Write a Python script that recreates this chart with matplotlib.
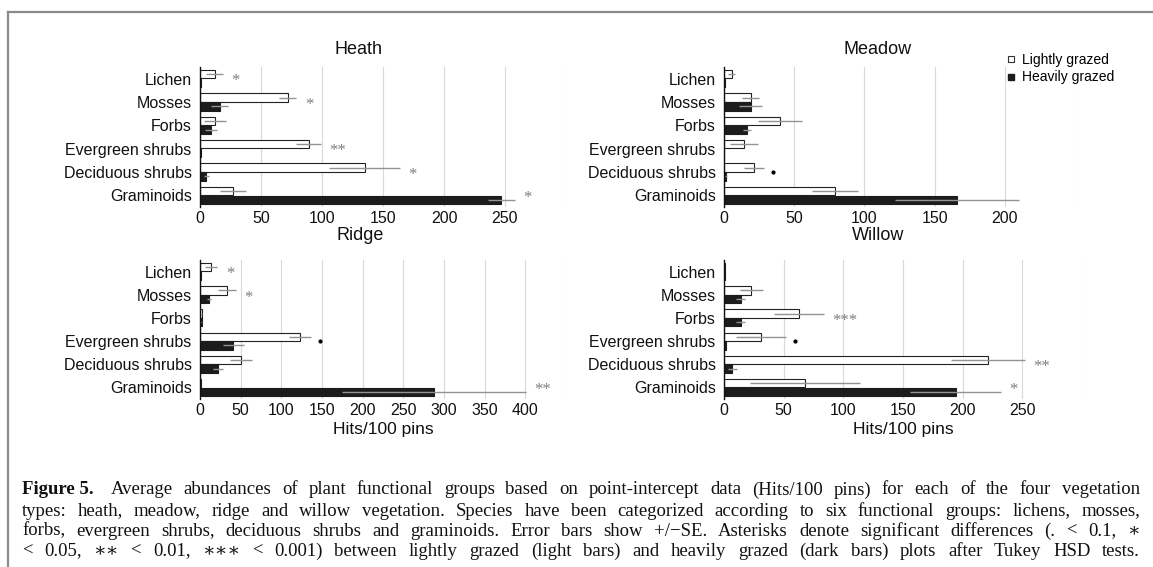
import matplotlib

matplotlib.use("Agg")
import matplotlib.pyplot as plt
from matplotlib.lines import Line2D

plt.rcParams["font.family"] = ["Liberation Sans", "DejaVu Sans"]

W, H = 1153, 567

categories = ["Lichen", "Mosses", "Forbs", "Evergreen shrubs", "Deciduous shrubs", "Graminoids"]

heath_light = [12, 72, 12, 89, 135, 27]
heath_light_se = [7, 7, 9, 10, 29, 11]
heath_heavy = [0.5, 16, 9, 1, 5, 247]
heath_heavy_se = [0, 7, 5, 0, 2, 11]
heath_sig = ["*", "*", "", "**", "*", "*"]

meadow_light = [5.5, 19, 40, 14, 21.5, 79]
meadow_light_se = [2.5, 6, 15.5, 10, 7, 16.5]
meadow_heavy = [0.5, 19, 16.5, 0, 1.5, 166]
meadow_heavy_se = [0, 8, 3, 0, 0.5, 44]
meadow_sig = ["", "", "", "", ".", ""]

ridge_light = [14, 33, 2, 123, 50, 1]
ridge_light_se = [7.5, 11, 0.5, 13, 13.5, 0]
ridge_heavy = [1, 11, 2, 41, 22, 288]
ridge_heavy_se = [0, 3, 0.5, 12.5, 6, 113]
ridge_sig = ["*", "*", "", ".", "", "**"]

willow_light = [0.5, 23, 63, 31, 221, 68]
willow_light_se = [0, 10, 21, 21, 31, 46]
willow_heavy = [0.5, 14, 14, 1.5, 7, 194]
willow_heavy_se = [0, 4, 4, 0, 3.5, 38]
willow_sig = ["", "", "***", ".", "**", "*"]

panel_titles = ["Heath", "Meadow", "Ridge", "Willow"]
panel_xmax = [300, 250, 450, 300]
panel_label_max = [250, 200, 400, 250]
legend_labels = ["Lightly grazed", "Heavily grazed"]
xlabel = "Hits/100 pins"

caption_head = "Figure 5."
caption_lines = [
    "Average abundances of plant functional groups based on point-intercept data (Hits/100 pins) for each of the four vegetation",
    "types: heath, meadow, ridge and willow vegetation. Species have been categorized according to six functional groups: lichens, mosses,",
    "forbs, evergreen shrubs, deciduous shrubs and graminoids. Error bars show +/\u2212SE. Asterisks denote significant differences (. < 0.1, \u2217",
    "< 0.05, \u2217\u2217 < 0.01, \u2217\u2217\u2217 < 0.001) between lightly grazed (light bars) and heavily grazed (dark bars) plots after Tukey HSD tests.",
]


def fx(px):
    return px / W


def fy(py):
    return 1 - py / H


def draw_panel(ax, light, light_se, heavy, heavy_se, sig, xmax, label_max):
    y = list(range(len(categories)))
    h = 0.36
    yl = [v - 0.19 for v in y]
    yh = [v + 0.19 for v in y]
    ax.barh(yl, light, height=h, color="white", edgecolor="#222222", linewidth=0.8, zorder=2)
    ax.barh(yh, heavy, height=h, color="#1c1c1c", edgecolor="#1c1c1c", linewidth=0.8, zorder=2)
    ax.errorbar(light, yl, xerr=light_se, fmt="none", ecolor="#939393", elinewidth=1.0, capsize=0, zorder=3)
    ax.errorbar(heavy, yh, xerr=heavy_se, fmt="none", ecolor="#939393", elinewidth=1.0, capsize=0, zorder=3)

    for i, s in enumerate(sig):
        if not s:
            continue
        end = max(light[i] + light_se[i], heavy[i] + heavy_se[i])
        if s == ".":
            # significance dot, about 9 px right of the error bar
            ax.plot([end + 9 * xmax / 360], [i], marker="o", markersize=2.0, color="black", zorder=4)
        else:
            ax.annotate(s, xy=(end, i + 0.12), xytext=(6, 0), textcoords="offset points",
                        ha="left", va="center", fontsize=12, color="#7f7f7f",
                        family=["Liberation Serif", "DejaVu Serif"])

    ax.set_xlim(0, xmax)
    ax.set_ylim(len(categories) - 0.5, -0.5)
    ticks = list(range(0, xmax + 1, 50))
    ax.set_xticks(ticks)
    ax.set_xticklabels([str(t) if t <= label_max else "" for t in ticks])
    ax.set_yticks(y)
    ax.set_yticklabels(categories)
    ax.tick_params(axis="both", length=0, labelsize=11.5, colors="#111111")
    ax.tick_params(axis="x", pad=3)
    ax.tick_params(axis="y", pad=6)
    ax.grid(axis="x", color="#d9d9d9", linewidth=0.8, zorder=0)
    ax.set_axisbelow(True)
    for side in ["top", "right", "bottom"]:
        ax.spines[side].set_visible(False)
    ax.spines["left"].set_color("#111111")
    ax.spines["left"].set_linewidth(1.0)
    ax.spines["left"].set_zorder(5)


fig = plt.figure(figsize=(W / 100, H / 100), dpi=100)

rects = [
    [fx(200), fy(207), (566 - 200) / W, 140 / H],
    [fx(724), fy(207), (1075 - 724) / W, 140 / H],
    [fx(200), fy(399), (566 - 200) / W, 139 / H],
    [fx(724), fy(399), (1082 - 724) / W, 139 / H],
]
series = [
    (heath_light, heath_light_se, heath_heavy, heath_heavy_se, heath_sig),
    (meadow_light, meadow_light_se, meadow_heavy, meadow_heavy_se, meadow_sig),
    (ridge_light, ridge_light_se, ridge_heavy, ridge_heavy_se, ridge_sig),
    (willow_light, willow_light_se, willow_heavy, willow_heavy_se, willow_sig),
]
title_pos = [(358, 50), (878, 50), (360, 235), (878, 235)]

axes = []
for k, rect in enumerate(rects):
    ax = fig.add_axes(rect)
    draw_panel(ax, *series[k], panel_xmax[k], panel_label_max[k])
    tx, ty = title_pos[k]
    fig.text(fx(tx), fy(ty), panel_titles[k], ha="center", va="center", fontsize=13, color="#111111")
    axes.append(ax)

for ax in axes[2:]:
    ax.set_xlabel(xlabel, fontsize=12.5, labelpad=3, color="#111111")

handles = [
    Line2D([], [], linestyle="none", marker="s", markersize=5, markerfacecolor="white",
           markeredgecolor="#333333", markeredgewidth=0.8),
    Line2D([], [], linestyle="none", marker="s", markersize=5, markerfacecolor="#1c1c1c",
           markeredgecolor="#1c1c1c"),
]
fig.legend(handles, legend_labels, loc="upper left", bbox_to_anchor=(fx(1000), fy(46)),
           frameon=False, fontsize=10, handlelength=0.6, handletextpad=0.5,
           labelspacing=0.25, borderpad=0)

# page frame (left and top rules)
fig.add_artist(Line2D([fx(8), fx(8)], [0, fy(12)], transform=fig.transFigure, color="#8a8a8a", lw=1.6))
fig.add_artist(Line2D([fx(8), 1], [fy(12), fy(12)], transform=fig.transFigure, color="#8a8a8a", lw=1.6))

# caption, each line justified to the same width
serif = ["Liberation Serif", "DejaVu Serif"]
cap_size = 13.5
cap_left, cap_right = 22, 1140
cap_y = [490, 511, 531, 551]
renderer = fig.canvas.get_renderer()
for li, line in enumerate(caption_lines):
    items = []
    if li == 0:
        items.append(fig.text(0, 0, caption_head, fontsize=cap_size, family=serif, weight="bold", color="#111111"))
    for w in line.split(" "):
        items.append(fig.text(0, 0, w, fontsize=cap_size, family=serif, color="#111111"))
    widths = [t.get_window_extent(renderer).width for t in items]
    extra = 6 if li == 0 else 0
    gap = (cap_right - cap_left - sum(widths) - extra) / (len(items) - 1)
    x = cap_left
    for j, (t, wdt) in enumerate(zip(items, widths)):
        t.set_position((fx(x), fy(cap_y[li])))
        t.set_va("center")
        x += wdt + gap
        if li == 0 and j == 0:
            x += extra

fig.savefig("out.png", dpi=100)
